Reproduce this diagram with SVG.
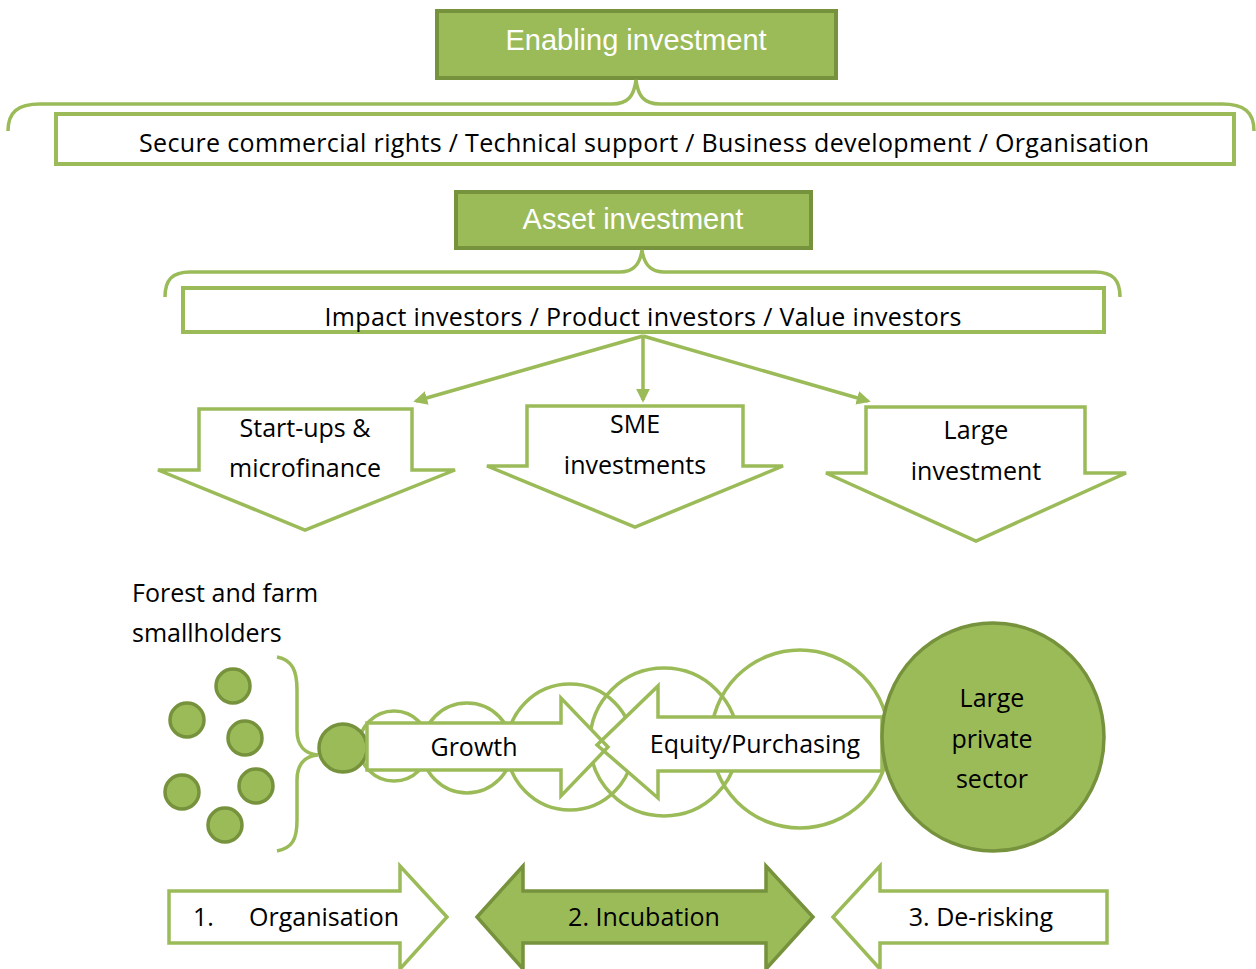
<svg xmlns="http://www.w3.org/2000/svg" width="1256" height="969" viewBox="0 0 1256 969">
<style>
.hdr{fill:#9BBB59;stroke:#76923C;stroke-width:4}
.ht{font-family:"Liberation Sans",Arial,sans-serif;font-size:29px;fill:#fff;text-anchor:middle}
.box{fill:#fff;stroke:#9BBB59;stroke-width:4}
.t{font-family:"Open Sans","DejaVu Sans",sans-serif;font-size:25px;fill:#000}
.m{text-anchor:middle}
.brace{fill:none;stroke:#9BBB59;stroke-width:3.5}
.out{fill:#fff;stroke:#9BBB59;stroke-width:3.5;stroke-linejoin:miter}
.ol{fill:none;stroke:#9BBB59;stroke-width:3.5}
.dot{fill:#9BBB59;stroke:#76923C;stroke-width:3.5}
.conn{stroke:#9BBB59;stroke-width:3.5;fill:none}
</style>
<defs>
<marker id="ah" viewBox="0 0 10 10" refX="8" refY="5" markerWidth="4" markerHeight="4" orient="auto" markerUnits="strokeWidth">
<path d="M0,0 L10,5 L0,10 z" fill="#9BBB59"/>
</marker>
</defs>

<g id="enabling">
<rect class="hdr" x="437" y="11" width="399" height="67"/>
<text class="ht" x="636" y="50">Enabling investment</text>
</g>
<g id="brace1">
<path class="brace" d="M8,131 C8,112 18,104 40,104 L612,104 C628,104 634,96 636,80 C638,96 644,104 660,104 L1222,104 C1244,104 1254,112 1254,131"/>
</g>
<g id="enabling-list">
<rect class="box" x="56" y="114" width="1178" height="50"/>
<text class="t m" x="644" y="152" textLength="1010">Secure commercial rights / Technical support / Business development / Organisation</text>
</g>

<g id="asset">
<rect class="hdr" x="456" y="192" width="355" height="56"/>
<text class="ht" x="633" y="229">Asset investment</text>
</g>
<g id="brace2">
<path class="brace" d="M165,297 C165,280 172,272 190,272 L620,272 C634,272 640,264 642,250 C644,264 650,272 664,272 L1095,272 C1113,272 1120,280 1120,297"/>
</g>
<g id="asset-list">
<rect class="box" x="183" y="288" width="921" height="44"/>
<text class="t m" x="643" y="326" textLength="637">Impact investors / Product investors / Value investors</text>
</g>

<g id="connectors">
<line class="conn" x1="643" y1="336" x2="416" y2="401" marker-end="url(#ah)"/>
<line class="conn" x1="643" y1="336" x2="643" y2="400" marker-end="url(#ah)"/>
<line class="conn" x1="643" y1="336" x2="868" y2="401" marker-end="url(#ah)"/>
</g>

<g id="startups">
<path class="out" d="M199,409 L412,409 L412,470 L455,470 L305,530 L158,470 L199,470 Z"/>
<text class="t m" x="305" y="437">Start-ups &amp;</text>
<text class="t m" x="305" y="477">microfinance</text>
</g>
<g id="sme">
<path class="out" d="M527,406 L743,406 L743,466 L783,466 L635,527 L487,466 L527,466 Z"/>
<text class="t m" x="635" y="433">SME</text>
<text class="t m" x="635" y="474">investments</text>
</g>
<g id="large">
<path class="out" d="M866,407 L1085,407 L1085,473 L1126,473 L976,541 L826,473 L866,473 Z"/>
<text class="t m" x="976" y="439">Large</text>
<text class="t m" x="976" y="480">investment</text>
</g>

<g id="smallholders">
<text class="t" x="132" y="602">Forest and farm</text>
<text class="t" x="132" y="642">smallholders</text>
<circle class="dot" cx="233" cy="686" r="17"/>
<circle class="dot" cx="187" cy="720" r="17"/>
<circle class="dot" cx="245" cy="738" r="17"/>
<circle class="dot" cx="182" cy="792" r="17"/>
<circle class="dot" cx="256" cy="786" r="17"/>
<circle class="dot" cx="225" cy="825" r="17"/>
<path class="brace" d="M277,657 C292,660 297,670 297,690 L297,730 C297,746 305,754 318,755 C305,756 297,764 297,780 L297,820 C297,840 292,848 277,851"/>
</g>

<g id="growth-circles">
<circle class="ol" cx="394" cy="746" r="35"/>
<circle class="ol" cx="467" cy="748" r="45"/>
<circle class="ol" cx="570" cy="747" r="63"/>
<circle class="ol" cx="664" cy="742" r="74"/>
<circle class="ol" cx="800" cy="739" r="89"/>
</g>
<g id="cooperative">
<circle class="dot" cx="343" cy="748" r="24"/>
</g>

<g id="growth">
<path fill="#fff" d="M367,723 L561,723 L561,698 L608,747 L561,796 L561,770 L367,770 Z"/>
</g>
<g id="equity">
<path fill="#fff" d="M882,717 L658,717 L658,686 L597,745 L658,798 L658,771 L882,771 Z"/>
</g>
<path class="ol" d="M367,723 L561,723 L561,698 L608,747 L561,796 L561,770 L367,770 Z"/>
<path class="ol" d="M882,717 L658,717 L658,686 L597,745 L658,798 L658,771 L882,771 Z"/>
<text class="t m" x="474" y="756">Growth</text>
<text class="t m" x="755" y="753">Equity/Purchasing</text>

<g id="private-sector">
<ellipse class="dot" cx="993" cy="737" rx="111" ry="114"/>
<text class="t m" x="992" y="707">Large</text>
<text class="t m" x="992" y="748">private</text>
<text class="t m" x="992" y="788">sector</text>
</g>

<g id="organisation">
<path class="out" d="M169,891 L400,891 L400,866 L447,917 L400,969 L400,943 L169,943 Z"/>
<text class="t" x="193" y="926">1.</text>
<text class="t" x="249" y="926">Organisation</text>
</g>
<g id="incubation">
<path class="dot" d="M477,917 L523,866 L523,891 L766,891 L766,866 L813,917 L766,969 L766,943 L523,943 L523,969 Z"/>
<text class="t m" x="644" y="926">2. Incubation</text>
</g>
<g id="derisking">
<path class="out" d="M1107,891 L880,891 L880,866 L833,917 L880,969 L880,943 L1107,943 Z"/>
<text class="t m" x="981" y="926">3. De-risking</text>
</g>
</svg>
